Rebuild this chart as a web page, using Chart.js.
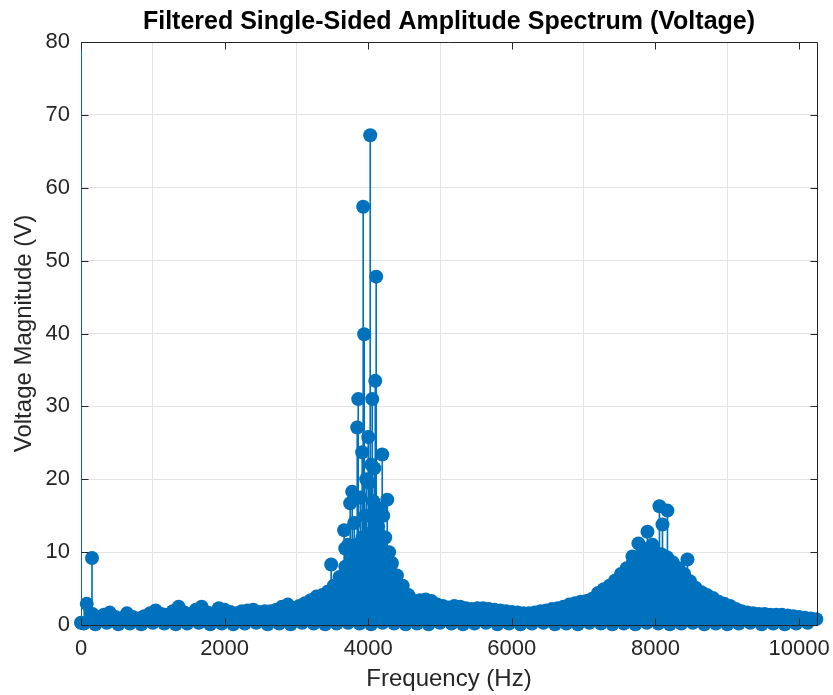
<!DOCTYPE html>
<html>
<head>
<meta charset="utf-8">
<title>Filtered Single-Sided Amplitude Spectrum (Voltage)</title>
<script src="https://cdn.jsdelivr.net/npm/chart.js@4.4.1/dist/chart.umd.min.js"></script>
<style>
  html, body { margin: 0; padding: 0; background: #ffffff; }
  #wrap { width: 833px; height: 695px; }
</style>
</head>
<body>
<div id="wrap"><canvas id="spectrumChart"></canvas></div>
<script>
// ===============================
// Data
// ===============================

// Dense body of the spectrum: bin frequency (Hz) and top magnitude (V)
const massFreq = [
    0, 80, 160, 240, 320, 400, 480, 560,
    640, 720, 800, 880, 960, 1040, 1120, 1200,
    1280, 1360, 1440, 1520, 1600, 1680, 1760, 1840,
    1920, 2000, 2080, 2160, 2240, 2320, 2400, 2480,
    2560, 2640, 2720, 2800, 2880, 2960, 3040, 3120,
    3200, 3280, 3360, 3440, 3520, 3600, 3680, 3760,
    3840, 3920, 4000, 4080, 4160, 4240, 4320, 4400,
    4480, 4560, 4640, 4720, 4800, 4880, 4960, 5040,
    5120, 5200, 5280, 5360, 5440, 5520, 5600, 5680,
    5760, 5840, 5920, 6000, 6080, 6160, 6240, 6320,
    6400, 6480, 6560, 6640, 6720, 6800, 6880, 6960,
    7040, 7120, 7200, 7280, 7360, 7440, 7520, 7600,
    7680, 7760, 7840, 7920, 8000, 8080, 8160, 8240,
    8320, 8400, 8480, 8560, 8640, 8720, 8800, 8880,
    8960, 9040, 9120, 9200, 9280, 9360, 9440, 9520,
    9600, 9680, 9760, 9840, 9920, 10000, 10080, 10160,
    10240
];
const massVolts = [
    0.3, 2.9, 1.5, 1.1, 1.4, 1.7, 1.1, 0.9,
    1.6, 1.1, 0.9, 1.2, 1.6, 2.0, 1.5, 1.4,
    1.9, 2.5, 1.7, 1.5, 2.1, 2.5, 1.7, 1.6,
    2.3, 2.1, 1.8, 1.6, 1.9, 2.0, 2.1, 1.8,
    1.9, 1.9, 2.1, 2.5, 2.8, 2.3, 2.6, 3.0,
    3.4, 3.9, 4.1, 4.6, 5.4, 6.6, 8.0, 9.5,
    11.0, 12.0, 12.5, 12.0, 11.0, 9.8, 8.3, 6.8,
    5.4, 4.1, 3.3, 3.4, 3.5, 3.3, 2.8, 2.6,
    2.4, 2.6, 2.5, 2.3, 2.2, 2.3, 2.3, 2.2,
    2.1, 2.0, 1.9, 1.8, 1.7, 1.6, 1.6, 1.7,
    1.9, 2.0, 2.2, 2.3, 2.5, 2.8, 3.0, 3.2,
    3.3, 3.6, 4.4, 4.9, 5.4, 6.1, 7.0, 7.8,
    8.4, 8.9, 9.4, 9.8, 9.9, 9.7, 9.3, 8.6,
    7.8, 7.0, 6.0, 5.1, 4.5, 4.1, 3.7, 3.2,
    2.9, 2.6, 2.2, 1.9, 1.7, 1.6, 1.5, 1.5,
    1.4, 1.4, 1.4, 1.3, 1.2, 1.1, 1.0, 0.9,
    0.8
];

// Near-zero bins sitting on the axis
const floorFreq = [
    40, 200, 360, 520, 680, 840, 1000, 1160,
    1320, 1480, 1640, 1800, 1960, 2120, 2280, 2440,
    2600, 2760, 2920, 3080, 3240, 3400, 3560, 3720,
    3880, 4040, 4200, 4360, 4520, 4680, 4840, 5000,
    5160, 5320, 5480, 5640, 5800, 5960, 6120, 6280,
    6440, 6600, 6760, 6920, 7080, 7240, 7400, 7560,
    7720, 7880, 8040, 8200, 8360, 8520, 8680, 8840,
    9000, 9160, 9320, 9480, 9640, 9800, 9960, 10120
];
const floorVolts = [
    0.2, 0.1, 0.3, 0.1, 0.2, 0.1, 0.3, 0.2,
    0.1, 0.2, 0.3, 0.1, 0.2, 0.1, 0.2, 0.3,
    0.1, 0.2, 0.1, 0.3, 0.2, 0.1, 0.2, 0.3,
    0.2, 0.1, 0.3, 0.2, 0.1, 0.2, 0.1, 0.3,
    0.2, 0.1, 0.2, 0.3, 0.1, 0.2, 0.1, 0.2,
    0.3, 0.1, 0.2, 0.1, 0.3, 0.2, 0.1, 0.2,
    0.1, 0.3, 0.2, 0.1, 0.2, 0.3, 0.1, 0.2,
    0.1, 0.2, 0.3, 0.1, 0.2, 0.1, 0.2, 0.3
];

// Individual tall stems (DC bin runs off the top of the axes)
const spikeFreq = [
    0, 153, 3484, 3665, 3680, 3720, 3749, 3777, 3805, 3847,
    3861, 3890, 3916, 3930, 3944, 3958, 3972, 4000, 4014, 4028,
    4042, 4056, 4070, 4084, 4098, 4111, 4125, 4139, 4153, 4181,
    4195, 4209, 4223, 4237, 4265, 4290, 4330,
    7680, 7763, 7820, 7889, 7960, 8056, 8098, 8167, 8446
];
const spikeVolts = [
    100, 9.2, 8.3, 13.0, 10.5, 11.0, 16.7, 18.3, 14.0, 27.1,
    31.0, 17.5, 23.7, 57.4, 39.9, 15.0, 20.0, 25.8, 19.5, 67.2,
    22.0, 31.0, 17.0, 21.5, 33.5, 47.8, 15.0, 13.5, 12.5, 16.0,
    23.4, 15.0, 9.5, 12.0, 17.2, 10.0, 8.5,
    9.4, 11.2, 10.5, 12.8, 11.0, 16.3, 13.8, 15.7, 9.0
];

const xTicks = [0, 2000, 4000, 6000, 8000, 10000];
const yTicks = [0, 10, 20, 30, 40, 50, 60, 70, 80];

// ===============================
// Styling
// ===============================

const stemBlue = "#0072BD";
const axisInk = "#262626";
const fontFamily = "'Liberation Sans', Arial, Helvetica, sans-serif";

const toPoints = (xs, ys) => xs.map((f, i) => ({ x: f, y: ys[i] }));
const massPts = toPoints(massFreq, massVolts);
const floorPts = toPoints(floorFreq, floorVolts);
const spikePts = toPoints(spikeFreq, spikeVolts);

const markerClip = { left: false, right: false, bottom: false, top: 0 };

// MATLAB-like box with inward ticks, drawn over the data
const axesBox = {
    id: "axesBox",
    beforeDatasetsDraw(chart) {
        const { ctx, chartArea: a } = chart;
        ctx.save();
        ctx.strokeStyle = axisInk;
        ctx.lineWidth = 1;
        ctx.beginPath();
        ctx.moveTo(Math.round(a.left) + 0.5, a.top);
        ctx.lineTo(Math.round(a.left) + 0.5, a.bottom);
        ctx.stroke();
        ctx.restore();
    },
    afterDatasetsDraw(chart) {
        const { ctx, chartArea: a, scales: { x, y } } = chart;
        const t = 7;
        const L = Math.round(a.left) + 0.5, R = Math.round(a.right) + 0.5;
        const T = Math.round(a.top) + 0.5, B = Math.round(a.bottom) + 0.5;
        ctx.save();
        ctx.strokeStyle = axisInk;
        ctx.lineWidth = 1;
        ctx.beginPath();
        ctx.moveTo(L, B); ctx.lineTo(R, B);
        ctx.moveTo(L, T); ctx.lineTo(R, T);
        ctx.moveTo(R, T); ctx.lineTo(R, B);
        xTicks.forEach(v => {
            const px = Math.round(x.getPixelForValue(v)) + 0.5;
            ctx.moveTo(px, B); ctx.lineTo(px, B - t);
            ctx.moveTo(px, T); ctx.lineTo(px, T + t);
        });
        yTicks.forEach(v => {
            const py = Math.round(y.getPixelForValue(v)) + 0.5;
            ctx.moveTo(L, py); ctx.lineTo(L + t, py);
            ctx.moveTo(R, py); ctx.lineTo(R - t, py);
        });
        ctx.stroke();
        ctx.restore();
    }
};

// ===============================
// Stem plot
// ===============================

const ctx = document.getElementById("spectrumChart").getContext("2d");

new Chart(ctx, {
    type: "scatter",
    data: {
        datasets: [
            {
                label: "spike markers",
                data: spikePts,
                backgroundColor: stemBlue,
                pointRadius: 7,
                pointBorderWidth: 0,
                clip: markerClip,
                order: 0
            },
            {
                label: "body markers",
                data: massPts,
                backgroundColor: stemBlue,
                pointRadius: 7,
                pointBorderWidth: 0,
                clip: markerClip,
                order: 1
            },
            {
                label: "floor markers",
                data: floorPts,
                backgroundColor: stemBlue,
                pointRadius: 7,
                pointBorderWidth: 0,
                clip: markerClip,
                order: 2
            },
            {
                type: "bar",
                label: "spike stems",
                data: spikePts,
                backgroundColor: stemBlue,
                barThickness: 1,
                grouped: false,
                order: 3
            },
            {
                type: "bar",
                label: "body stems",
                data: massPts,
                backgroundColor: stemBlue,
                barThickness: 6,
                grouped: false,
                order: 4
            }
        ]
    },
    options: {
        responsive: true,
        maintainAspectRatio: false,
        animation: false,
        events: [],
        layout: {
            padding: { left: 0, right: 16, top: 0, bottom: 0 }
        },
        plugins: {
            legend: { display: false },
            tooltip: { enabled: false },
            title: {
                display: true,
                fullSize: false,
                text: "Filtered Single-Sided Amplitude Spectrum (Voltage)",
                color: "#000000",
                font: { family: fontFamily, size: 25, weight: "bold" },
                padding: { top: 7, bottom: 5 }
            }
        },
        scales: {
            x: {
                type: "linear",
                min: 0,
                max: 10250,
                offset: false,
                afterBuildTicks: s => { s.ticks = xTicks.map(v => ({ value: v })); },
                afterFit: s => {
                    s.height = 70;
                    s.paddingLeft = 0;
                    s.paddingRight = 0;
                },
                grid: { color: "#e3e3e3", drawTicks: false },
                border: { display: false },
                ticks: {
                    color: axisInk,
                    padding: 11,
                    maxRotation: 0,
                    font: { family: fontFamily, size: 22 },
                    callback: v => String(v)
                },
                title: {
                    display: true,
                    text: "Frequency (Hz)",
                    color: axisInk,
                    font: { family: fontFamily, size: 24 },
                    padding: { top: 0, bottom: 1 }
                }
            },
            y: {
                type: "linear",
                min: 0,
                max: 80,
                afterBuildTicks: s => { s.ticks = yTicks.map(v => ({ value: v })); },
                afterFit: s => { s.width = 81; },
                grid: { color: "#e3e3e3", drawTicks: false },
                border: { display: false },
                ticks: {
                    color: axisInk,
                    padding: 11,
                    font: { family: fontFamily, size: 22 },
                    callback: v => String(v)
                },
                title: {
                    display: true,
                    text: "Voltage Magnitude (V)",
                    color: axisInk,
                    font: { family: fontFamily, size: 24 },
                    padding: { top: 10, bottom: 0 }
                }
            }
        }
    },
    plugins: [axesBox]
});
</script>
</body>
</html>
